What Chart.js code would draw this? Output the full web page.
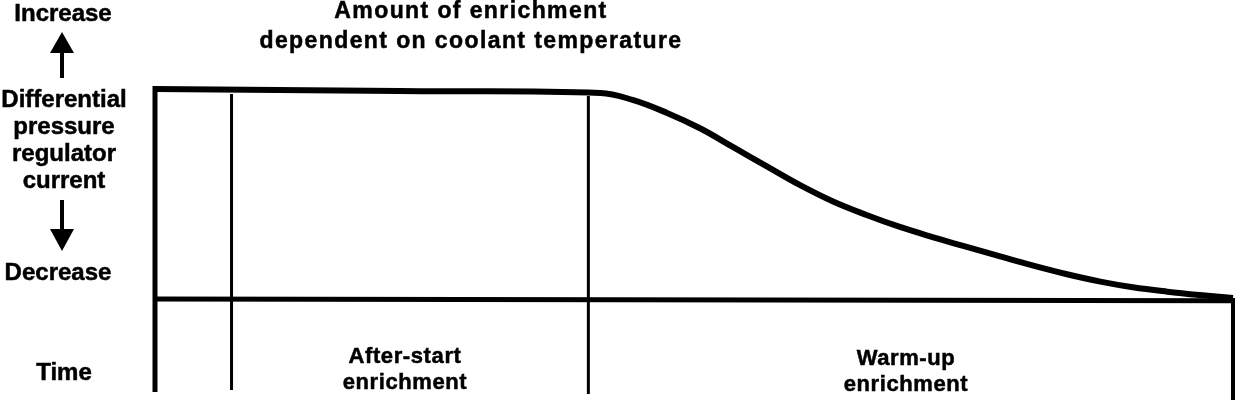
<!DOCTYPE html>
<html>
<head>
<meta charset="utf-8">
<script src="https://cdn.jsdelivr.net/npm/chart.js@4.4.1/dist/chart.umd.min.js"></script>
<style>
  html, body { margin: 0; padding: 0; background: #fff; }
  #wrap { position: relative; width: 1248px; height: 402px; overflow: hidden; }
  #chart { position: absolute; left: 0; top: 0; }
  .lbl {
    position: absolute; transform: translateX(-50%);
    font-family: "Liberation Sans", Arial, sans-serif; font-weight: bold;
    color: #000; text-align: center; white-space: nowrap;
    -webkit-text-stroke: 0.5px #000;
  }
  .side { font-size: 24px; line-height: 27px; }
  .title { font-size: 23px; line-height: 30px; letter-spacing: 1.4px; }
  .phase { font-size: 22px; line-height: 26px; letter-spacing: 0.6px; }
  svg.arrow { position: absolute; }
</style>
</head>
<body>
<div id="wrap">
  <canvas id="chart" width="1248" height="402"></canvas>

  <div class="lbl side" style="left:63px; top:-1px;">Increase</div>
  <div class="lbl side" style="left:64px; top:85px;">Differential<br>pressure<br>regulator<br>current</div>
  <div class="lbl side" style="left:58px; top:258px;">Decrease</div>
  <div class="lbl side" style="left:64px; top:358px;">Time</div>

  <div class="lbl title" style="left:471px; top:-5px;">Amount of enrichment<br>dependent on coolant temperature</div>

  <div class="lbl phase" style="left:405px; top:343px;">After-start<br>enrichment</div>
  <div class="lbl phase" style="left:906px; top:345px;">Warm-up<br>enrichment</div>

  <svg class="arrow" style="left:50px; top:32px;" width="24" height="47" viewBox="0 0 24 47">
    <polygon points="12,0 24,21 0,21" fill="#000"/>
    <rect x="10" y="20" width="4" height="26" fill="#000"/>
  </svg>
  <svg class="arrow" style="left:50px; top:200px;" width="24" height="52" viewBox="0 0 24 52">
    <rect x="10" y="0" width="4" height="32" fill="#000"/>
    <polygon points="0,29 24,29 12,51" fill="#000"/>
  </svg>
</div>

<script>
'use strict';

// ─── Data (time 0..100, regulator current 0..100) ────────────────────────────
const curveTime    = [0, 22.7, 41.3, 44.3, 47.5, 50.6, 53.6, 56.8, 59.8, 62.9, 66.0, 69.1, 72.2, 75.3, 78.4, 81.4, 84.6, 87.7, 90.7, 93.9, 96.9, 100];
const curveCurrent = [100, 99.0, 98.1, 94.8, 88.6, 81.2, 72.4, 63.0, 54.3, 46.4, 40.0, 34.3, 29.4, 24.8, 20.3, 16.0, 11.8, 8.3, 5.6, 3.5, 1.9, 0.5];

const baseTime    = [0, 100];
const baseCurrent = [0, -0.8];

// phase boundaries: start, after-start end, warm-up start, warm-up end
const markerTime   = [0, 7.1, 40.2, 100];
const markerTop    = [101.4, 97.6, 96.7, 0.5];
const markerBottom = [-44.3, -43.3, -45.2, -48.1];
const markerWidth  = [5, 3, 3, 4];

// ─── Datasets ────────────────────────────────────────────────────────────────
const lineBase = {
  borderColor: '#000',
  pointRadius: 0,
  fill: false,
  clip: false,
  borderCapStyle: 'butt',
};

const datasets = [
  {
    ...lineBase,
    label: 'current',
    data: curveTime.map((t, i) => ({ x: t, y: curveCurrent[i] })),
    borderWidth: 6,
    tension: 0.4,
    borderJoinStyle: 'round',
  },
  {
    ...lineBase,
    label: 'baseline',
    data: baseTime.map((t, i) => ({ x: t, y: baseCurrent[i] })),
    borderWidth: 5,
  },
];

markerTime.forEach((t, i) => {
  datasets.push({
    ...lineBase,
    label: 'marker ' + i,
    data: [{ x: t, y: markerTop[i] }, { x: t, y: markerBottom[i] }],
    borderWidth: markerWidth[i],
  });
});

// ─── Chart ───────────────────────────────────────────────────────────────────
new Chart(document.getElementById('chart'), {
  type: 'line',
  data: { datasets },
  options: {
    responsive: false,
    animation: false,
    layout: { padding: { left: 155, right: 15, top: 89, bottom: 103 } },
    scales: {
      x: { type: 'linear', min: 0, max: 100, display: false },
      y: { type: 'linear', min: 0, max: 100, display: false },
    },
    plugins: {
      legend: { display: false },
      tooltip: { enabled: false },
    },
  },
});
</script>
</body>
</html>
